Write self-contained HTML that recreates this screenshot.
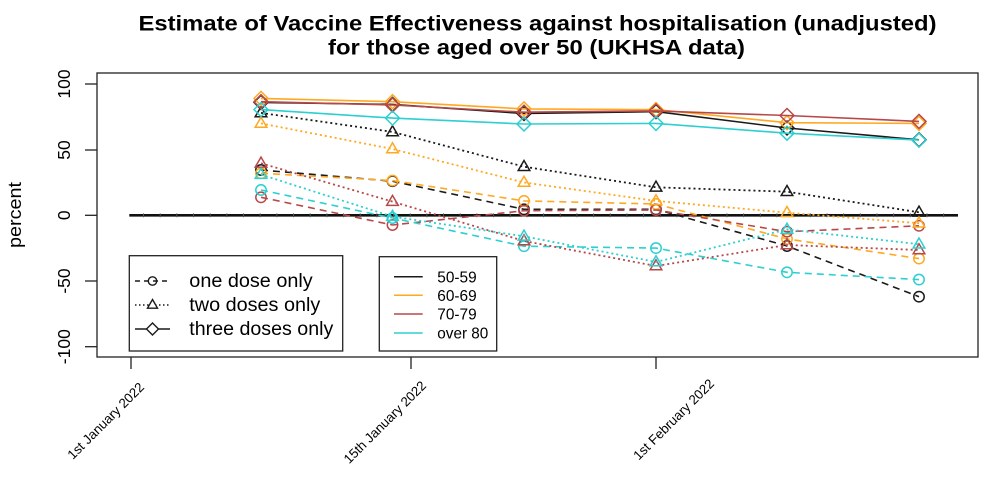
<!DOCTYPE html>
<html><head><meta charset="utf-8"><style>
html,body{margin:0;padding:0;background:#fff;}
svg{display:block;}
text{font-family:"Liberation Sans",Arial,sans-serif;fill:#000;}
</style></head><body>
<svg width="1004" height="479" viewBox="0 0 1004 479" xmlns="http://www.w3.org/2000/svg">
<defs>
<marker id="ck" markerUnits="userSpaceOnUse" markerWidth="20" markerHeight="20" refX="10" refY="10" overflow="visible"><circle cx="10" cy="10" r="5.2" fill="none" stroke="#1a1a1a" stroke-width="1.5"/></marker>
<marker id="co" markerUnits="userSpaceOnUse" markerWidth="20" markerHeight="20" refX="10" refY="10" overflow="visible"><circle cx="10" cy="10" r="5.2" fill="none" stroke="#FFA820" stroke-width="1.5"/></marker>
<marker id="cr" markerUnits="userSpaceOnUse" markerWidth="20" markerHeight="20" refX="10" refY="10" overflow="visible"><circle cx="10" cy="10" r="5.2" fill="none" stroke="#B84848" stroke-width="1.5"/></marker>
<marker id="cc" markerUnits="userSpaceOnUse" markerWidth="20" markerHeight="20" refX="10" refY="10" overflow="visible"><circle cx="10" cy="10" r="5.2" fill="none" stroke="#2ECFD0" stroke-width="1.5"/></marker>
<marker id="tk" markerUnits="userSpaceOnUse" markerWidth="20" markerHeight="20" refX="10" refY="10" overflow="visible"><polygon points="10,3.8 15.8,13.8 4.2,13.8" fill="none" stroke="#1a1a1a" stroke-width="1.5"/></marker>
<marker id="to" markerUnits="userSpaceOnUse" markerWidth="20" markerHeight="20" refX="10" refY="10" overflow="visible"><polygon points="10,3.8 15.8,13.8 4.2,13.8" fill="none" stroke="#FFA820" stroke-width="1.5"/></marker>
<marker id="tr" markerUnits="userSpaceOnUse" markerWidth="20" markerHeight="20" refX="10" refY="10" overflow="visible"><polygon points="10,3.8 15.8,13.8 4.2,13.8" fill="none" stroke="#B84848" stroke-width="1.5"/></marker>
<marker id="tc" markerUnits="userSpaceOnUse" markerWidth="20" markerHeight="20" refX="10" refY="10" overflow="visible"><polygon points="10,3.8 15.8,13.8 4.2,13.8" fill="none" stroke="#2ECFD0" stroke-width="1.5"/></marker>
<marker id="dk" markerUnits="userSpaceOnUse" markerWidth="20" markerHeight="20" refX="10" refY="10" overflow="visible"><polygon points="10,3 17,10 10,17 3,10" fill="none" stroke="#1a1a1a" stroke-width="1.5"/></marker>
<marker id="do" markerUnits="userSpaceOnUse" markerWidth="20" markerHeight="20" refX="10" refY="10" overflow="visible"><polygon points="10,3 17,10 10,17 3,10" fill="none" stroke="#FFA820" stroke-width="1.5"/></marker>
<marker id="dr" markerUnits="userSpaceOnUse" markerWidth="20" markerHeight="20" refX="10" refY="10" overflow="visible"><polygon points="10,3 17,10 10,17 3,10" fill="none" stroke="#B84848" stroke-width="1.5"/></marker>
<marker id="dc" markerUnits="userSpaceOnUse" markerWidth="20" markerHeight="20" refX="10" refY="10" overflow="visible"><polygon points="10,3 17,10 10,17 3,10" fill="none" stroke="#2ECFD0" stroke-width="1.5"/></marker>
</defs>

<!-- Title -->
<text x="537.5" y="30.5" font-size="21" font-weight="bold" text-anchor="middle" textLength="798" lengthAdjust="spacingAndGlyphs">Estimate of Vaccine Effectiveness against hospitalisation (unadjusted)</text>
<text x="536.5" y="54.5" font-size="21" font-weight="bold" text-anchor="middle" textLength="417" lengthAdjust="spacingAndGlyphs">for those aged over 50 (UKHSA data)</text>

<!-- plot box -->
<rect x="97" y="73" width="881" height="284" fill="none" stroke="#222" stroke-width="1.3"/>

<!-- y ticks -->
<g stroke="#222" stroke-width="1.3">
<line x1="85" y1="84" x2="97" y2="84"/>
<line x1="85" y1="150" x2="97" y2="150"/>
<line x1="85" y1="215.3" x2="97" y2="215.3"/>
<line x1="85" y1="281" x2="97" y2="281"/>
<line x1="85" y1="346.7" x2="97" y2="346.7"/>
</g>
<g font-size="17.5" text-anchor="middle">
<text transform="translate(70,84) rotate(-90)">100</text>
<text transform="translate(70,150) rotate(-90)">50</text>
<text transform="translate(70,215.3) rotate(-90)">0</text>
<text transform="translate(70,281) rotate(-90)">-50</text>
<text transform="translate(70,346.7) rotate(-90)">-100</text>
</g>
<text transform="translate(21,215) rotate(-90)" font-size="18.5" text-anchor="middle" textLength="66" lengthAdjust="spacingAndGlyphs">percent</text>

<!-- x ticks -->
<g stroke="#222" stroke-width="1.3">
<line x1="131" y1="357" x2="131" y2="369"/>
<line x1="411" y1="357" x2="411" y2="369"/>
<line x1="656" y1="357" x2="656" y2="369"/>
</g>
<g font-size="13.3" text-anchor="end">
<text transform="translate(145,388) rotate(-45)">1st January 2022</text>
<text transform="translate(427,386.5) rotate(-45)">15th January 2022</text>
<text transform="translate(715,384.5) rotate(-45)">1st February 2022</text>
</g>

<!-- zero line -->
<line x1="129.3" y1="215.3" x2="958" y2="215.3" stroke="#111" stroke-width="2.6"/>
<line x1="143" y1="215.3" x2="958" y2="215.3" stroke="#555" stroke-width="3.8" stroke-dasharray="1 15.67"/>

<!-- one dose (dashed, circles) -->
<g fill="none" stroke-width="1.6" stroke-dasharray="7 5">
<polyline stroke="#1a1a1a" marker-start="url(#ck)" marker-mid="url(#ck)" marker-end="url(#ck)" points="261,170.0 392.5,181.2 524,209.3 656,209.3 787,246.0 919,296.7"/>
<polyline stroke="#FFA820" marker-start="url(#co)" marker-mid="url(#co)" marker-end="url(#co)" points="261,173.3 392.5,180.6 524,200.9 656,204.0 787,238.9 919,258.6"/>
<polyline stroke="#B84848" marker-start="url(#cr)" marker-mid="url(#cr)" marker-end="url(#cr)" points="261,197.3 392.5,225.0 524,210.7 656,210.0 787,231.7 919,225.8"/>
<polyline stroke="#2ECFD0" marker-start="url(#cc)" marker-mid="url(#cc)" marker-end="url(#cc)" points="261,190.0 392.5,218.0 524,246.2 656,248.1 787,272.3 919,279.6"/>
</g>

<!-- two doses (dotted, triangles) -->
<g fill="none" stroke-width="1.8" stroke-dasharray="2 3">
<polyline stroke="#1a1a1a" marker-start="url(#tk)" marker-mid="url(#tk)" marker-end="url(#tk)" points="261,112.9 392.5,131.9 524,166.7 656,187.3 787,191.7 919,212.3"/>
<polyline stroke="#FFA820" marker-start="url(#to)" marker-mid="url(#to)" marker-end="url(#to)" points="261,123.4 392.5,149.0 524,182.5 656,200.9 787,212.7 919,223.2"/>
<polyline stroke="#B84848" marker-start="url(#tr)" marker-mid="url(#tr)" marker-end="url(#tr)" points="261,163.3 392.5,201.6 524,241.0 656,266.0 787,245.0 919,250.0"/>
<polyline stroke="#2ECFD0" marker-start="url(#tc)" marker-mid="url(#tc)" marker-end="url(#tc)" points="261,174.6 392.5,216.6 524,236.3 656,262.0 787,229.4 919,244.2"/>
</g>

<!-- three doses (solid, diamonds) -->
<g fill="none" stroke-width="1.6">
<polyline stroke="#1a1a1a" marker-start="url(#dk)" marker-mid="url(#dk)" marker-end="url(#dk)" points="261,102.4 392.5,104.4 524,113.5 656,111.6 787,128.0 919,139.8"/>
<polyline stroke="#FFA820" marker-start="url(#do)" marker-mid="url(#do)" marker-end="url(#do)" points="261,98.4 392.5,101.7 524,108.9 656,109.6 787,122.7 919,123.4"/>
<polyline stroke="#B84848" marker-start="url(#dr)" marker-mid="url(#dr)" marker-end="url(#dr)" points="261,101.7 392.5,105.0 524,112.2 656,110.9 787,115.5 919,121.4"/>
<polyline stroke="#2ECFD0" marker-start="url(#dc)" marker-mid="url(#dc)" marker-end="url(#dc)" points="261,109.6 392.5,118.1 524,124.0 656,123.4 787,133.2 919,140.1"/>
</g>

<!-- legend 1 -->
<rect x="129.3" y="255.7" width="213.4" height="95.3" fill="#fff" stroke="#222" stroke-width="1.3"/>
<g fill="none" stroke="#1a1a1a" stroke-width="1.4">
<line x1="135" y1="281" x2="170" y2="281" stroke-dasharray="5 4"/>
<circle cx="152.5" cy="281" r="4.2"/>
<line x1="135" y1="305" x2="170" y2="305" stroke-dasharray="1.5 2.5"/>
<polygon points="152.5,299.5 157.5,308.2 147.5,308.2" fill="#fff"/>
<line x1="135" y1="329" x2="170" y2="329"/>
<polygon points="152.5,323 158.5,329 152.5,335 146.5,329" fill="#fff"/>
</g>
<g font-size="19.5">
<text x="189.3" y="287" textLength="123.4" lengthAdjust="spacingAndGlyphs">one dose only</text>
<text x="189.3" y="311" textLength="131" lengthAdjust="spacingAndGlyphs">two doses only</text>
<text x="189.3" y="335" textLength="144" lengthAdjust="spacingAndGlyphs">three doses only</text>
</g>

<!-- legend 2 -->
<rect x="379.3" y="256.7" width="117.4" height="94.3" fill="#fff" stroke="#222" stroke-width="1.3"/>
<g stroke-width="1.5">
<line x1="394" y1="276.7" x2="422.7" y2="276.7" stroke="#1a1a1a"/>
<line x1="394" y1="295.3" x2="422.7" y2="295.3" stroke="#FFA820"/>
<line x1="394" y1="314" x2="422.7" y2="314" stroke="#B84848"/>
<line x1="394" y1="333" x2="422.7" y2="333" stroke="#2ECFD0"/>
</g>
<g font-size="16">
<text x="437.3" y="282.5" textLength="39.4" lengthAdjust="spacingAndGlyphs">50-59</text>
<text x="437.3" y="301" textLength="39.4" lengthAdjust="spacingAndGlyphs">60-69</text>
<text x="437.3" y="319.7" textLength="39.4" lengthAdjust="spacingAndGlyphs">70-79</text>
<text x="437.3" y="338.7" textLength="51" lengthAdjust="spacingAndGlyphs">over 80</text>
</g>
</svg>
</body></html>
